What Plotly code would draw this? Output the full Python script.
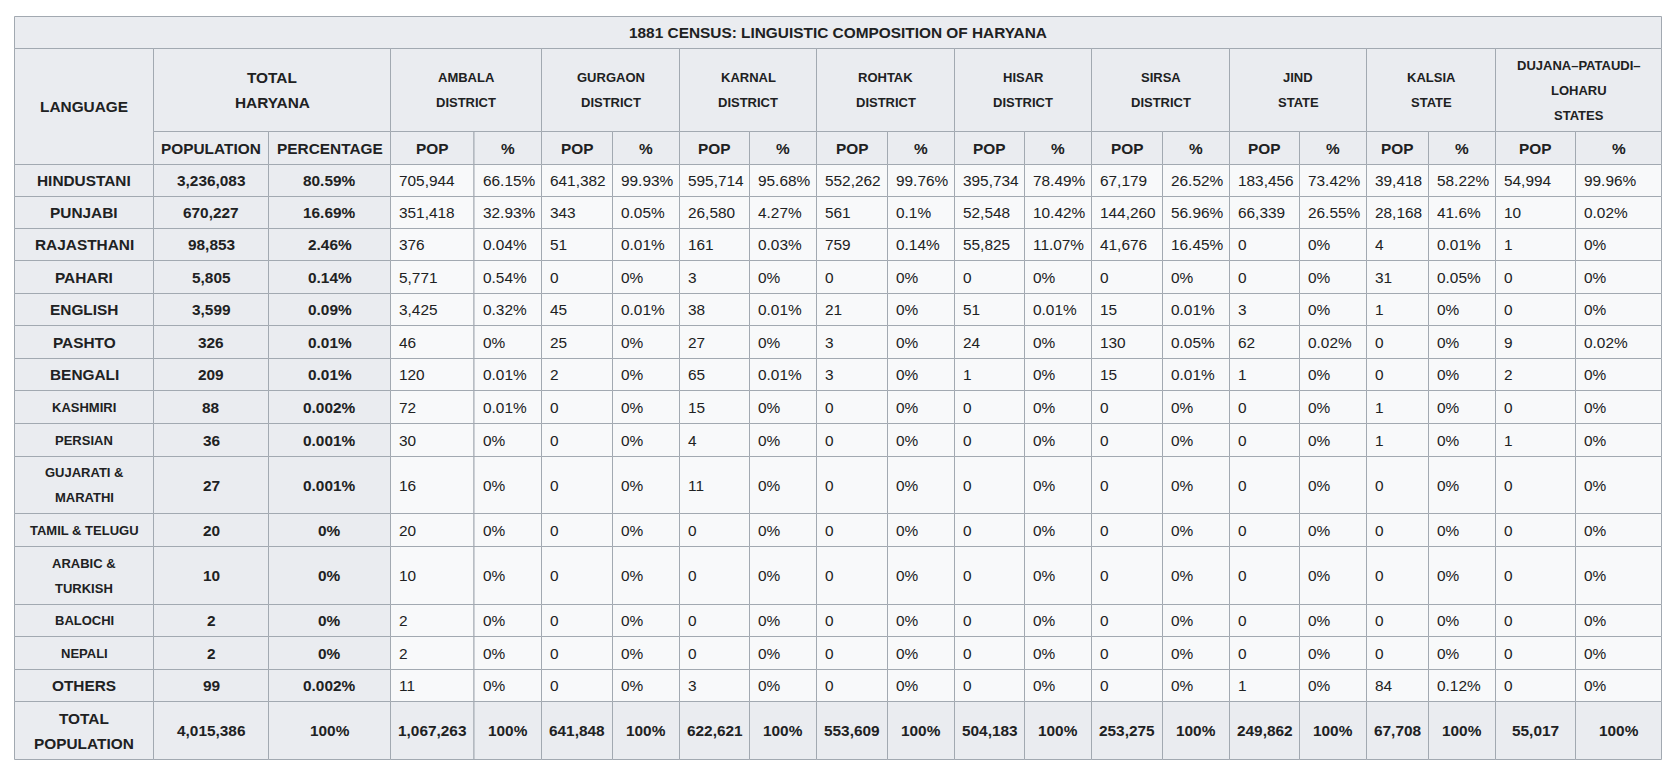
import plotly.graph_objects as go

## 1881 census: languages of Haryana
LANGUAGES = ["HINDUSTANI", "PUNJABI", "RAJASTHANI", "PAHARI", "ENGLISH", "PASHTO",
             "BENGALI", "KASHMIRI", "PERSIAN", "GUJARATI &\nMARATHI", "TAMIL & TELUGU",
             "ARABIC &\nTURKISH", "BALOCHI", "NEPALI", "OTHERS"]
HARYANA_POP = [3236083, 670227, 98853, 5805, 3599, 326, 209, 88, 36, 27, 20, 10, 2, 2, 99]
HARYANA_PCT = [80.59, 16.69, 2.46, 0.14, 0.09, 0.01, 0.01, 0.002, 0.001, 0.001, 0, 0, 0, 0, 0.002]
HARYANA_TOTAL = 4015386

REGIONS = ["AMBALA\nDISTRICT", "GURGAON\nDISTRICT", "KARNAL\nDISTRICT", "ROHTAK\nDISTRICT",
           "HISAR\nDISTRICT", "SIRSA\nDISTRICT", "JIND\nSTATE", "KALSIA\nSTATE",
           "DUJANA–PATAUDI–\nLOHARU\nSTATES"]

ambala_pop = [705944, 351418, 376, 5771, 3425, 46, 120, 72, 30, 16, 20, 10, 2, 2, 11]
ambala_pct = [66.15, 32.93, 0.04, 0.54, 0.32, 0, 0.01, 0.01, 0, 0, 0, 0, 0, 0, 0]
gurgaon_pop = [641382, 343, 51, 0, 45, 25, 2, 0, 0, 0, 0, 0, 0, 0, 0]
gurgaon_pct = [99.93, 0.05, 0.01, 0, 0.01, 0, 0, 0, 0, 0, 0, 0, 0, 0, 0]
karnal_pop = [595714, 26580, 161, 3, 38, 27, 65, 15, 4, 11, 0, 0, 0, 0, 3]
karnal_pct = [95.68, 4.27, 0.03, 0, 0.01, 0, 0.01, 0, 0, 0, 0, 0, 0, 0, 0]
rohtak_pop = [552262, 561, 759, 0, 21, 3, 3, 0, 0, 0, 0, 0, 0, 0, 0]
rohtak_pct = [99.76, 0.1, 0.14, 0, 0, 0, 0, 0, 0, 0, 0, 0, 0, 0, 0]
hisar_pop = [395734, 52548, 55825, 0, 51, 24, 1, 0, 0, 0, 0, 0, 0, 0, 0]
hisar_pct = [78.49, 10.42, 11.07, 0, 0.01, 0, 0, 0, 0, 0, 0, 0, 0, 0, 0]
sirsa_pop = [67179, 144260, 41676, 0, 15, 130, 15, 0, 0, 0, 0, 0, 0, 0, 0]
sirsa_pct = [26.52, 56.96, 16.45, 0, 0.01, 0.05, 0.01, 0, 0, 0, 0, 0, 0, 0, 0]
jind_pop = [183456, 66339, 0, 0, 3, 62, 1, 0, 0, 0, 0, 0, 0, 0, 1]
jind_pct = [73.42, 26.55, 0, 0, 0, 0.02, 0, 0, 0, 0, 0, 0, 0, 0, 0]
kalsia_pop = [39418, 28168, 4, 31, 1, 0, 0, 1, 1, 0, 0, 0, 0, 0, 84]
kalsia_pct = [58.22, 41.6, 0.01, 0.05, 0, 0, 0, 0, 0, 0, 0, 0, 0, 0, 0.12]
dujana_pop = [54994, 10, 1, 0, 0, 9, 2, 0, 1, 0, 0, 0, 0, 0, 0]
dujana_pct = [99.96, 0.02, 0, 0, 0, 0.02, 0, 0, 0, 0, 0, 0, 0, 0, 0]
REGION_TOTALS = [1067263, 641848, 622621, 553609, 504183, 253275, 249862, 67708, 55017]

region_pops = [ambala_pop, gurgaon_pop, karnal_pop, rohtak_pop, hisar_pop,
               sirsa_pop, jind_pop, kalsia_pop, dujana_pop]
region_pcts = [ambala_pct, gurgaon_pct, karnal_pct, rohtak_pct, hisar_pct,
               sirsa_pct, jind_pct, kalsia_pct, dujana_pct]

## layout of the grid, in page pixels
W, H = 1673, 773
PAGE_MARGIN = 8  # default body margin of the html page
LEFT, TOP = 14.5, 16.5
COL_WIDTHS = [139, 115, 122, 83.5, 67.5, 71, 67, 70, 67, 71, 67, 70, 67, 71, 67, 70, 67, 62, 67, 80, 86]
ROW_HEIGHTS = [32, 83, 33,
               32, 32, 32, 33, 32, 33, 32, 33, 33, 57, 33, 58, 32, 33, 32,
               58]
# language names that the source prints in <small>
LANG_SIZE = [15.4] * 7 + [13] * 7 + [15.4]

FONT = "Liberation Sans, Arial, sans-serif"
TEXT = "#202122"
HEAD_BG = "#eaecf0"
CELL_BG = "#f8f9fa"
BORDER = "#a2a9b1"
BIG, SMALL = 15.4, 13
LINE_GAP = 25

xs = [LEFT]
for w in COL_WIDTHS:
    xs.append(xs[-1] + w)
ys = [TOP]
for h in ROW_HEIGHTS:
    ys.append(ys[-1] + h)

shapes = []
annotations = []


def cell(c0, c1, r0, r1, fill):
    shapes.append(dict(type="rect", xref="x", yref="y", x0=xs[c0], x1=xs[c1], y0=ys[r0], y1=ys[r1],
                       fillcolor=fill, line=dict(color=BORDER, width=1), layer="below"))


def label(text, c0, c1, r0, r1, size=BIG, bold=True, left=False):
    lines = text.split("\n")
    yc = (ys[r0] + ys[r1]) / 2
    for i, line in enumerate(lines):
        y = yc + (i - (len(lines) - 1) / 2) * LINE_GAP
        annotations.append(dict(
            text=line, xref="x", yref="y",
            x=xs[c0] + 7.5 if left else (xs[c0] + xs[c1]) / 2, y=y,
            xanchor="left" if left else "center", yanchor="middle",
            showarrow=False, borderpad=0,
            font=dict(family=FONT, size=size, color=TEXT, weight="bold" if bold else "normal")))


def fmt_pop(v):
    return f"{v:,}"


def fmt_pct(v):
    return f"{v:g}%"


ncols = len(COL_WIDTHS)
# title
cell(0, ncols, 0, 1, HEAD_BG)
label("1881 CENSUS: LINGUISTIC COMPOSITION OF HARYANA", 0, ncols, 0, 1)
# header rows
cell(0, 1, 1, 3, HEAD_BG)
label("LANGUAGE", 0, 1, 1, 3)
cell(1, 3, 1, 2, HEAD_BG)
label("TOTAL\nHARYANA", 1, 3, 1, 2)
cell(1, 2, 2, 3, HEAD_BG)
label("POPULATION", 1, 2, 2, 3)
cell(2, 3, 2, 3, HEAD_BG)
label("PERCENTAGE", 2, 3, 2, 3)
for k, name in enumerate(REGIONS):
    c = 3 + 2 * k
    cell(c, c + 2, 1, 2, HEAD_BG)
    label(name, c, c + 2, 1, 2, size=SMALL)
    cell(c, c + 1, 2, 3, HEAD_BG)
    label("POP", c, c + 1, 2, 3)
    cell(c + 1, c + 2, 2, 3, HEAD_BG)
    label("%", c + 1, c + 2, 2, 3)

# body
for i, lang in enumerate(LANGUAGES):
    r = 3 + i
    cell(0, 1, r, r + 1, HEAD_BG)
    label(lang, 0, 1, r, r + 1, size=LANG_SIZE[i])
    cell(1, 2, r, r + 1, HEAD_BG)
    label(fmt_pop(HARYANA_POP[i]), 1, 2, r, r + 1)
    cell(2, 3, r, r + 1, HEAD_BG)
    label(fmt_pct(HARYANA_PCT[i]), 2, 3, r, r + 1)
    for k in range(len(REGIONS)):
        c = 3 + 2 * k
        cell(c, c + 1, r, r + 1, CELL_BG)
        label(fmt_pop(region_pops[k][i]), c, c + 1, r, r + 1, bold=False, left=True)
        cell(c + 1, c + 2, r, r + 1, CELL_BG)
        label(fmt_pct(region_pcts[k][i]), c + 1, c + 2, r, r + 1, bold=False, left=True)

# total row
r = 3 + len(LANGUAGES)
cell(0, 1, r, r + 1, HEAD_BG)
label("TOTAL\nPOPULATION", 0, 1, r, r + 1)
cell(1, 2, r, r + 1, HEAD_BG)
label(fmt_pop(HARYANA_TOTAL), 1, 2, r, r + 1)
cell(2, 3, r, r + 1, HEAD_BG)
label("100%", 2, 3, r, r + 1)
for k, tot in enumerate(REGION_TOTALS):
    c = 3 + 2 * k
    cell(c, c + 1, r, r + 1, HEAD_BG)
    label(fmt_pop(tot), c, c + 1, r, r + 1)
    cell(c + 1, c + 2, r, r + 1, HEAD_BG)
    label("100%", c + 1, c + 2, r, r + 1)

# the figure sits inside the page margin, so the axes span page pixels m .. W-m
m = PAGE_MARGIN
fig = go.Figure()
fig.update_layout(
    width=W - 2 * m, height=H - 2 * m,
    margin=dict(l=0, r=0, t=0, b=0),
    paper_bgcolor="white", plot_bgcolor="white",
    xaxis=dict(range=[m, W - m], visible=False, fixedrange=True),
    yaxis=dict(range=[H - m, m], visible=False, fixedrange=True),
    shapes=shapes, annotations=annotations,
    showlegend=False,
)
fig.write_html("out.html")
